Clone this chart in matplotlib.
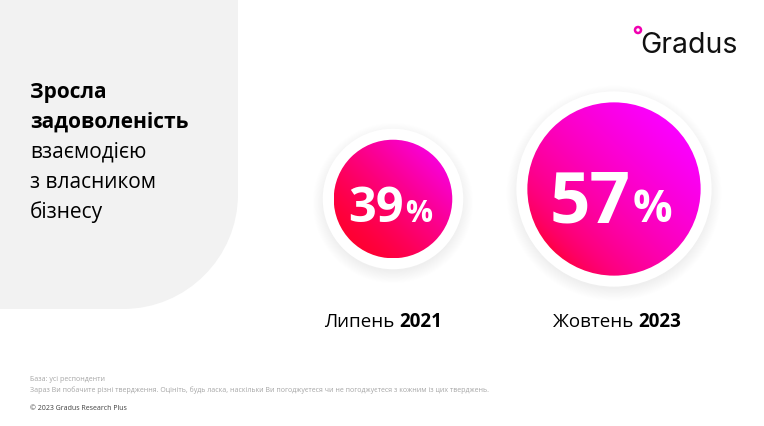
import numpy as np
import matplotlib
matplotlib.use("Agg")
import matplotlib.pyplot as plt
from matplotlib.patches import Circle, PathPatch
from matplotlib.path import Path

# ---- data ----
values = [39, 57]
months = ["Липень", "Жовтень"]
years = ["2021", "2023"]
title_bold = ["Зросла", "задоволеність"]
title_regular = ["взаємодією", "з власником", "бізнесу"]
footnote_base = "База: усі респонденти"
footnote_q = ("Зараз Ви побачите різні твердження. Оцініть, будь ласка, наскільки Ви погоджуєтеся "
              "чи не погоджуєтеся з кожним із цих тверджень.")
copyright_txt = "© 2023 Gradus Research Plus"
brand = "Gradus"

FONT = ["Open Sans", "DejaVu Sans"]
plt.rcParams["font.family"] = FONT

W, H = 764, 427
fig = plt.figure(figsize=(W / 100, H / 100), dpi=100)
ax = fig.add_axes([0, 0, 1, 1])
ax.set_xlim(0, W)
ax.set_ylim(H, 0)
ax.axis("off")
fig.patch.set_facecolor("white")

# ---- gray panel with rounded bottom-right corner ----
pw, ph, rr = 238, 310, 115
k = 0.5523
verts = [(0, 0), (pw, 0), (pw, ph - rr),
         (pw, ph - rr + k * rr), (pw - rr + k * rr, ph), (pw - rr, ph),
         (0, ph), (0, 0)]
codes = [Path.MOVETO, Path.LINETO, Path.LINETO,
         Path.CURVE4, Path.CURVE4, Path.CURVE4,
         Path.LINETO, Path.CLOSEPOLY]
ax.add_patch(PathPatch(Path(verts, codes), facecolor="#F2F2F2", edgecolor="none", zorder=0))

# ---- title ----
y0, dy = 98, 30
for i, s in enumerate(title_bold + title_regular):
    ax.text(30, y0 + i * dy, s, fontsize=15, fontweight="bold" if i < 2 else "normal",
            color="black", va="baseline", ha="left")

# ---- circles ----
centers = [(393, 200), (614, 190)]
grad_styles = [  # (start colour, end colour, gamma)
    ((255, 0, 50), (248, 0, 218), 1.25),
    ((255, 0, 60), (250, 0, 255), 0.6),
]
scale = 1.52
ring = 11
fig.canvas.draw()
renderer = fig.canvas.get_renderer()


def two_part(xc, yb, a, b, fa, fb, wa, wb, color, gap=0):
    t1 = ax.text(0, yb, a, fontsize=fa, fontweight=wa, color=color, va="baseline", ha="left", zorder=10)
    t2 = ax.text(0, yb, b, fontsize=fb, fontweight=wb, color=color, va="baseline", ha="left", zorder=10)
    w1 = t1.get_window_extent(renderer).width
    w2 = t2.get_window_extent(renderer).width
    total = w1 + gap + w2
    x1 = xc - total / 2
    t1.set_x(x1)
    t2.set_x(x1 + w1 + gap)


for idx, (v, (cx, cy), m, yr) in enumerate(zip(values, centers, months, years)):
    r = v * scale
    ro = r + ring
    # soft shadow
    for j in range(16):
        ax.add_patch(Circle((cx, cy + 4), ro - 2 + j * 0.8, facecolor="black",
                            edgecolor="none", alpha=0.0055, zorder=1))
    ax.add_patch(Circle((cx, cy), ro, facecolor="white", edgecolor="none", zorder=2))
    # gradient disc
    N = 300
    xs = np.linspace(cx - r, cx + r, N)
    ys = np.linspace(cy - r, cy + r, N)
    X, Y = np.meshgrid(xs, ys)
    t = ((X - cx) - (Y - cy)) / (2 * np.sqrt(2) * r) + 0.5
    t = np.clip(t, 0, 1) ** grad_styles[idx][2]
    c0 = np.array(grad_styles[idx][0]) / 255
    c1 = np.array(grad_styles[idx][1]) / 255
    img = c0[None, None, :] * (1 - t[..., None]) + c1[None, None, :] * t[..., None]
    clip = Circle((cx, cy), r, facecolor="none", edgecolor="none", transform=ax.transData)
    ax.add_patch(clip)
    im = ax.imshow(img, extent=(cx - r, cx + r, cy + r, cy - r), origin="upper",
                   interpolation="bilinear", zorder=3)
    im.set_clip_path(clip)
    # value text
    big = r * 0.59
    two_part(cx - 3, cy + r * 0.37, f"{v}", "%", big, big * 0.62, "bold", "bold", "white", gap=2)
    # period label
    two_part(cx - 10 if idx == 0 else cx + 3, 327, m + " ", yr, 13.5, 13.5, "normal", "bold", "black")

# ---- logo ----
ax.text(640, 53, brand, fontsize=20.5, family=["Inter", "DejaVu Sans"], color="#111111",
        va="baseline", ha="left")
ax.add_patch(Circle((638, 31), 3, facecolor="none", edgecolor="#F000B0", linewidth=1.8, zorder=5))

# ---- footnotes ----
ax.text(30, 381, footnote_base, fontsize=5.0, color="#A6A6A6", va="baseline", ha="left")
ax.text(30, 392, footnote_q, fontsize=5.0, color="#A6A6A6", va="baseline", ha="left")
ax.text(30, 410, copyright_txt, fontsize=5.0, color="#404040", va="baseline", ha="left")

fig.savefig("out.png", dpi=100)
